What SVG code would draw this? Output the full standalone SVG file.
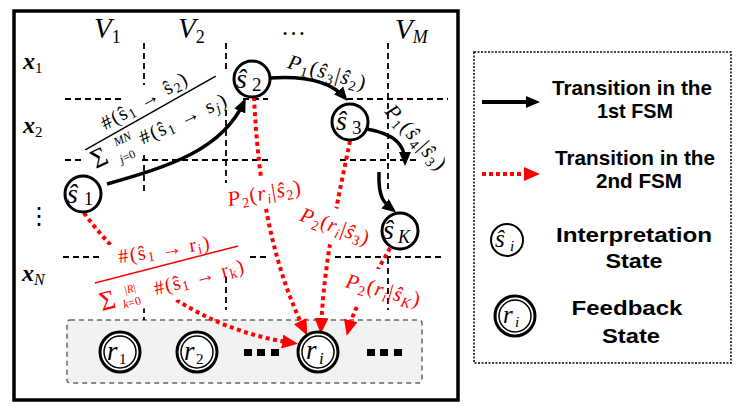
<svg xmlns="http://www.w3.org/2000/svg" width="739" height="409" viewBox="0 0 739 409">
<style>
.m{font-family:"Liberation Serif","DejaVu Serif",serif;font-style:italic;fill:#000}
.u{font-style:normal}
.r{fill:#ff0000}
.lg{font-family:"Liberation Sans",Arial,sans-serif;font-weight:bold;font-size:21px;text-anchor:middle;fill:#000}
.st{fill:#fff;stroke:#000;stroke-width:3}
.grid{stroke:#000;stroke-width:1.8;stroke-dasharray:6 4;fill:none}
.c1{stroke:#000;stroke-width:3.5;fill:none;marker-end:url(#ab)}
.c2{stroke:#ff0000;stroke-width:4;stroke-dasharray:4 3.5;fill:none;marker-end:url(#ar)}
.bg{fill:#fff}
</style>
<defs>
<marker id="ab" markerUnits="userSpaceOnUse" markerWidth="14" markerHeight="12" refX="10" refY="6" orient="auto"><path d="M0,0 L14,6 L0,12 Z" fill="#000"/></marker>
<marker id="ar" markerUnits="userSpaceOnUse" markerWidth="16" markerHeight="14" refX="11" refY="7" orient="auto"><path d="M0,0 L16,7 L0,14 Z" fill="#ff0000"/></marker>
</defs>
<rect width="739" height="409" fill="#fff"/>
<rect x="14" y="11" width="444" height="389" fill="none" stroke="#000" stroke-width="3.5"/>
<rect x="67" y="320" width="355" height="63" rx="3" fill="#f2f2f2" stroke="#666" stroke-width="1.5" stroke-dasharray="5 4"/>
<g id="grid">
<path class="grid" d="M65,99H122 M243,99H268 M347,99H448 M65,160H85 M142,160H270 M340,160H418 M63,257H100 M250,257H266 M335,257H445 M144,43V85 M144,155V193 M144,307V320 M226,43V72 M226,110V183 M226,277V310 M388,43V193 M388,258V310"/>
</g>
<g id="axes" class="m">
<text x="94" y="38" font-size="29">V<tspan class="u" font-size="18" dy="5">1</tspan></text>
<text x="178" y="38" font-size="29">V<tspan class="u" font-size="18" dy="5">2</tspan></text>
<text x="281" y="35" font-size="25" class="u">…</text>
<text x="395" y="39" font-size="29">V<tspan font-size="18" dy="4">M</tspan></text>
<text x="23" y="69" font-size="24" font-weight="bold">x<tspan class="u" font-weight="normal" font-size="15" dy="4">1</tspan></text>
<text x="23" y="133" font-size="24" font-weight="bold">x<tspan class="u" font-weight="normal" font-size="15" dy="4">2</tspan></text>
<text x="27" y="224" font-size="24" class="u">⋮</text>
<text x="22" y="281" font-size="24" font-weight="bold">x<tspan font-weight="normal" font-size="16" dy="4">N</tspan></text>
</g>
<g id="connectors">
<path class="c1" d="M107,184 C170,166 222,150 244,102"/>
<path class="c1" d="M270,78 C300,76 330,80 345,98"/>
<path class="c1" d="M367,129 C395,134 405,145 405,162"/>
<path class="c1" d="M379,172 C378,198 384,203 393,210"/>
<path class="c2" d="M84,213 C130,275 200,330 293,343"/>
<path class="c2" d="M254,97 C258,180 270,260 305,331"/>
<path class="c2" d="M350,141 C338,200 324,260 321,329"/>
<path class="c2" d="M390,248 C376,275 356,300 348,331"/>
</g>
<g id="labels">
<g transform="translate(150.5,113) rotate(-29.5)">
<line x1="-75" y1="0" x2="75" y2="0" stroke="#000" stroke-width="1.5"/>
<text class="m u" x="0" y="-7" font-size="20" text-anchor="middle" textLength="96" lengthAdjust="spacing">#(ŝ<tspan font-size="14" dy="3">1</tspan><tspan dy="-3"> → ŝ</tspan><tspan font-size="14" dy="3">2</tspan><tspan dy="-3">)</tspan></text>
</g>
<g transform="translate(100,157) rotate(-25)">
<text class="m u" x="-9" y="9" font-size="27">Σ</text>
<text class="m" x="19" y="-3" font-size="12">MN</text>
<text class="m" x="17" y="15" font-size="12">j<tspan class="u">=0</tspan></text>
<text class="m u" x="44" y="7" font-size="20" textLength="94" lengthAdjust="spacing">#(ŝ<tspan font-size="14" dy="3">1</tspan><tspan dy="-3"> → s</tspan><tspan font-size="14" dy="3" class="m">j</tspan><tspan dy="-3">)</tspan></text>
</g>
<g transform="translate(166.5,264.5) rotate(-14.5)">
<rect class="bg" x="-62" y="-33" width="112" height="70"/>
<line x1="-74" y1="0" x2="74" y2="0" stroke="#ff0000" stroke-width="1.5"/>
<text class="m u r" x="-74" y="29" font-size="27">Σ</text>
<text class="m r" x="-47" y="18" font-size="11"><tspan class="u">|</tspan>R<tspan class="u">|</tspan></text>
<text class="m r" x="-52" y="32" font-size="12">k<tspan class="u">=0</tspan></text>
<text class="m u r" x="-18" y="27" font-size="20" textLength="92" lengthAdjust="spacing">#(ŝ<tspan font-size="14" dy="3">1</tspan><tspan dy="-3"> → r</tspan><tspan font-size="14" dy="3">k</tspan><tspan dy="-3">)</tspan></text>
</g>
<g transform="translate(163.7,249.2) rotate(-9)">
<text class="m u r" x="0" y="7" font-size="20" text-anchor="middle" textLength="92" lengthAdjust="spacing">#(ŝ<tspan font-size="14" dy="3">1</tspan><tspan dy="-3"> → r</tspan><tspan font-size="14" dy="3">i</tspan><tspan dy="-3">)</tspan></text>
</g>
<g transform="translate(327,72) rotate(16)">
<text class="m" x="0" y="7" font-size="21" text-anchor="middle" textLength="80" lengthAdjust="spacing">P<tspan class="u" font-size="14" dy="4">1</tspan><tspan class="u" dy="-4">(</tspan>ŝ<tspan class="u" font-size="14" dy="4">3</tspan><tspan class="u" dy="-4">|</tspan>ŝ<tspan class="u" font-size="14" dy="4">2</tspan><tspan class="u" dy="-4">)</tspan></text>
</g>
<g transform="translate(416,137) rotate(48)">
<text class="m" x="0" y="7" font-size="21" text-anchor="middle" textLength="80" lengthAdjust="spacing">P<tspan class="u" font-size="14" dy="4">1</tspan><tspan class="u" dy="-4">(</tspan>ŝ<tspan class="u" font-size="14" dy="4">4</tspan><tspan class="u" dy="-4">|</tspan>ŝ<tspan class="u" font-size="14" dy="4">3</tspan><tspan class="u" dy="-4">)</tspan></text>
</g>
<g transform="translate(264,193) rotate(-10)">
<rect class="bg" x="-12" y="-15" width="24" height="29"/>
<text class="m r" x="0" y="7" font-size="21" text-anchor="middle" textLength="74" lengthAdjust="spacing">P<tspan class="u" font-size="14" dy="4">2</tspan><tspan class="u" dy="-4">(</tspan>r<tspan font-size="14" dy="4">i</tspan><tspan class="u" dy="-4">|</tspan>ŝ<tspan class="u" font-size="14" dy="4">2</tspan><tspan class="u" dy="-4">)</tspan></text>
</g>
<g transform="translate(335,226) rotate(20)">
<rect class="bg" x="-18" y="-17" width="28" height="36"/>
<text class="m r" x="0" y="7" font-size="21" text-anchor="middle" textLength="72" lengthAdjust="spacing">P<tspan class="u" font-size="14" dy="4">2</tspan><tspan class="u" dy="-4">(</tspan>r<tspan font-size="14" dy="4">i</tspan><tspan class="u" dy="-4">|</tspan>ŝ<tspan class="u" font-size="14" dy="4">3</tspan><tspan class="u" dy="-4">)</tspan></text>
</g>
<g transform="translate(383,290) rotate(15)">
<rect class="bg" x="-30" y="-19" width="26" height="42"/>
<text class="m r" x="0" y="7" font-size="21" text-anchor="middle" textLength="76" lengthAdjust="spacing">P<tspan class="u" font-size="14" dy="4">2</tspan><tspan class="u" dy="-4">(</tspan>r<tspan font-size="14" dy="4">i</tspan><tspan class="u" dy="-4">|</tspan>ŝ<tspan font-size="14" dy="4">K</tspan><tspan class="u" dy="-4">)</tspan></text>
</g>
</g>
<g id="s1"><circle class="st" cx="83" cy="194" r="18"/><text class="m" x="67" y="203" font-size="28">ŝ</text><text class="m u" x="84" y="205" font-size="18">1</text></g>
<g id="s2"><circle class="st" cx="252" cy="79" r="18"/><text class="m" x="236" y="88" font-size="28">ŝ</text><text class="m u" x="252" y="91" font-size="19">2</text></g>
<g id="s3"><circle class="st" cx="350" cy="122" r="18"/><text class="m" x="336" y="130" font-size="28">ŝ</text><text class="m u" x="352" y="134" font-size="19">3</text></g>
<g id="sK"><circle class="st" cx="400" cy="231" r="18"/><text class="m" x="383" y="239" font-size="28">ŝ</text><text class="m" x="398" y="243" font-size="18">K</text></g>
<g id="r1"><circle class="st" cx="120" cy="352" r="20"/><circle cx="120" cy="352" r="16" fill="none" stroke="#000" stroke-width="1.5"/><text class="m" x="107" y="360" font-size="27">r</text><text class="m u" x="119" y="364" font-size="15">1</text></g>
<g id="r2"><circle class="st" cx="197" cy="352" r="20"/><circle cx="197" cy="352" r="16" fill="none" stroke="#000" stroke-width="1.5"/><text class="m" x="184" y="360" font-size="27">r</text><text class="m u" x="196" y="364" font-size="15">2</text></g>
<g id="ri"><circle class="st" cx="318" cy="352" r="20"/><circle cx="318" cy="352" r="16" fill="none" stroke="#000" stroke-width="1.5"/><text class="m" x="306" y="359" font-size="27">r</text><text class="m" x="319" y="364" font-size="17">i</text></g>
<g id="dots">
<rect x="244" y="349" width="8" height="7"/><rect x="257" y="349" width="8" height="7"/><rect x="271" y="349" width="8" height="7"/>
<rect x="367" y="349" width="8" height="7"/><rect x="380" y="349" width="8" height="7"/><rect x="394" y="349" width="8" height="7"/>
</g>
<g id="legend">
<rect x="474" y="52" width="257" height="311" fill="none" stroke="#000" stroke-width="1.5" stroke-dasharray="2 1.5"/>
<line x1="482" y1="102" x2="536" y2="102" stroke="#000" stroke-width="4" marker-end="url(#ab)"/>
<text class="lg" x="632" y="95" textLength="160" lengthAdjust="spacingAndGlyphs">Transition in the</text>
<text class="lg" x="635" y="118" textLength="76" lengthAdjust="spacingAndGlyphs">1st FSM</text>
<line x1="482" y1="174" x2="535" y2="174" stroke="#ff0000" stroke-width="4" stroke-dasharray="4 3" marker-end="url(#ar)"/>
<text class="lg" x="635" y="165" textLength="160" lengthAdjust="spacingAndGlyphs">Transition in the</text>
<text class="lg" x="639" y="188" textLength="86" lengthAdjust="spacingAndGlyphs">2nd FSM</text>
<circle cx="507" cy="240" r="16" fill="#fff" stroke="#000" stroke-width="2"/>
<text class="m" x="495" y="247" font-size="25">ŝ</text><text class="m" x="510" y="251" font-size="15">i</text>
<text class="lg" x="634" y="242" textLength="156" lengthAdjust="spacingAndGlyphs">Interpretation</text>
<text class="lg" x="634" y="268" textLength="57" lengthAdjust="spacingAndGlyphs">State</text>
<circle cx="515" cy="316" r="20" fill="#fff" stroke="#000" stroke-width="3"/>
<circle cx="515" cy="316" r="16" fill="none" stroke="#000" stroke-width="1.5"/>
<text class="m" x="503" y="323" font-size="25">r</text><text class="m" x="515" y="327" font-size="15">i</text>
<text class="lg" x="627" y="315" textLength="111" lengthAdjust="spacingAndGlyphs">Feedback</text>
<text class="lg" x="631" y="343" textLength="58" lengthAdjust="spacingAndGlyphs">State</text>
</g>
</svg>
